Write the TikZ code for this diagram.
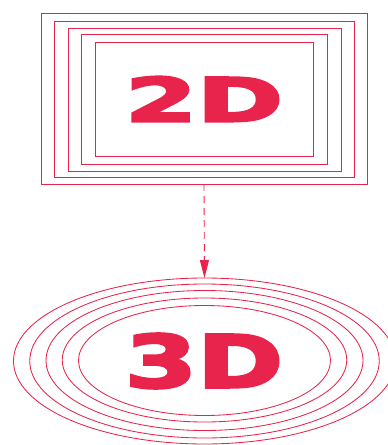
\documentclass[tikz,border=0pt]{standalone}
\usepackage{fontspec}
\setmainfont{DejaVu Sans}
\newfontfamily\heavyfont[FakeBold=3.5]{DejaVu Sans Bold}
\usetikzlibrary{arrows.meta,shapes.geometric}
\definecolor{brand}{RGB}{232,36,76}
\begin{document}
\begin{tikzpicture}[x=1pt,y=-1pt,
  ring/.style={draw=brand, line width=0.85pt, inner sep=0pt, outer sep=0pt},
  box/.style={ring, rectangle},
  oval/.style={ring, ellipse},
  bigtext/.style={text=brand, inner sep=0pt, font=\heavyfont},
  link/.style={draw=brand, line width=0.9pt, dash pattern=on 7pt off 5pt,
    -{Triangle[length=18pt,width=9pt]}}]
\useasboundingbox (0,0) rectangle (388,445);
\clip (0,0) rectangle (388,445);
% 2D frames
\node[box, minimum width=326pt, minimum height=171pt] (r1) at (204,98.5) {};
\node[box, minimum width=300pt, minimum height=156pt] (r2) at (204,99) {};
\node[box, minimum width=273pt, minimum height=143pt] (r3) at (204.5,99.5) {};
\node[box, minimum width=246pt, minimum height=130pt] (r4) at (204,99) {};
\node[box, minimum width=218pt, minimum height=114pt] (r5) at (204,99) {};
\node[bigtext] (t2) at (204,99) {\resizebox{158pt}{45pt}{2D}};
% 3D rings
\node[oval, minimum width=382pt, minimum height=166pt] (e1) at (204.5,361) {};
\node[oval, minimum width=349.5pt, minimum height=154pt] (e2) at (204.5,361) {};
\node[oval, minimum width=317pt, minimum height=140pt] (e3) at (204.5,360.5) {};
\node[oval, minimum width=284.5pt, minimum height=124pt] (e4) at (204.5,360) {};
\node[oval, minimum width=252pt, minimum height=110pt] (e5) at (204.5,360.5) {};
\node[bigtext] (t3) at (204,361) {\resizebox{158pt}{54pt}{3D}};
% connector
\draw[link] (r1.south) -- (e1.north);
\end{tikzpicture}
\end{document}
